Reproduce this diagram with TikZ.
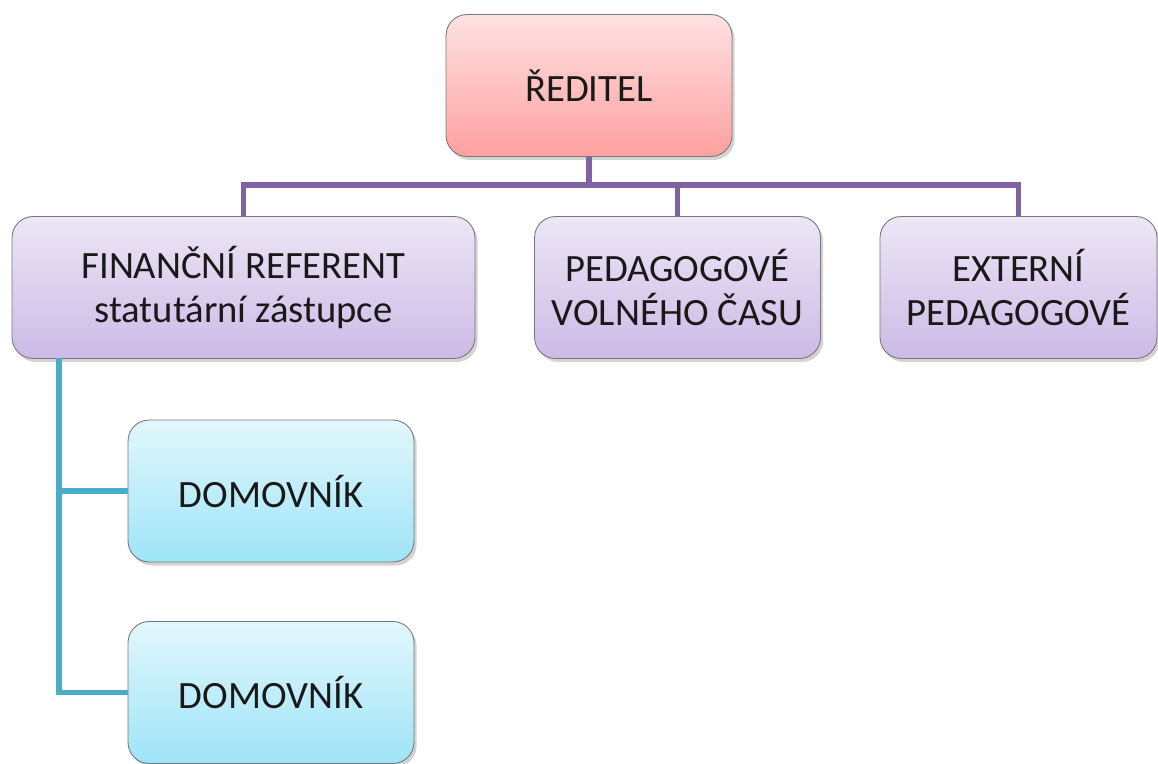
\documentclass[tikz,border=0pt]{standalone}
\usepackage{fontspec}
\setmainfont{Carlito}
\usetikzlibrary{shadows, positioning}
\definecolor{colorHeadTop}{RGB}{253, 226, 226}
\definecolor{colorHeadBot}{RGB}{255, 160, 160}
\definecolor{colorStaffTop}{RGB}{236, 230, 245}
\definecolor{colorStaffBot}{RGB}{204, 186, 230}
\definecolor{colorServTop}{RGB}{226, 247, 252}
\definecolor{colorServBot}{RGB}{158, 228, 248}
\definecolor{colorBorder}{RGB}{120, 120, 120}
\definecolor{colorPurple}{RGB}{128, 100, 162}
\definecolor{colorTeal}{RGB}{75, 172, 198}
\tikzstyle{orgbox} = [rectangle, rounded corners=12pt, minimum width=5.72cm, minimum height=2.84cm, text centered, align=center, draw=colorBorder, line width=0.5pt, font=\fontsize{22}{25}\selectfont, text=black!90, drop shadow={opacity=0.35, shadow xshift=1.5pt, shadow yshift=-2pt}]
\tikzstyle{headbox} = [orgbox, top color=colorHeadTop, bottom color=colorHeadBot]
\tikzstyle{staffbox} = [orgbox, top color=colorStaffTop, bottom color=colorStaffBot]
\tikzstyle{servicebox} = [orgbox, top color=colorServTop, bottom color=colorServBot]
\tikzstyle{purpleline} = [draw=colorPurple, line width=3pt]
\tikzstyle{tealline} = [draw=colorTeal, line width=3pt]

\begin{document}
\begin{tikzpicture}[x=0.02cm, y=-0.02cm]

	\useasboundingbox (0,0) rectangle (1158,763);

	% top
	\node (reditel)[headbox] at (589,85.5) {ŘEDITEL};

	% second row
	\node (financni)[staffbox, minimum width=9.26cm] at (243.5,287.5) {FINANČNÍ REFERENT \\ statutární zástupce};
	\node (pedagogove)[staffbox] at (677.5,287.5) {PEDAGOGOVÉ \\ VOLNÉHO ČASU};
	\node (externi)[staffbox, minimum width=5.54cm] at (1018.5,287.5) {EXTERNÍ \\ PEDAGOGOVÉ};

	% under the finance officer
	\node (domovnik1)[servicebox] at (271,491) {DOMOVNÍK};
	\node (domovnik2)[servicebox] at (271,692.5) {DOMOVNÍK};

	% bends
	\coordinate (bus) at (589,185);
	\coordinate (trunk) at (59,358);

	% lines
	\draw[purpleline] (reditel.south) -- (bus);
	\draw[purpleline] (bus) -| (financni.north);
	\draw[purpleline] (bus) -| (pedagogove.north);
	\draw[purpleline] (bus) -| (externi.north);

	\draw[tealline] (trunk) |- (domovnik1.west);
	\draw[tealline] (trunk) |- (domovnik2.west);

\end{tikzpicture}
\end{document}
